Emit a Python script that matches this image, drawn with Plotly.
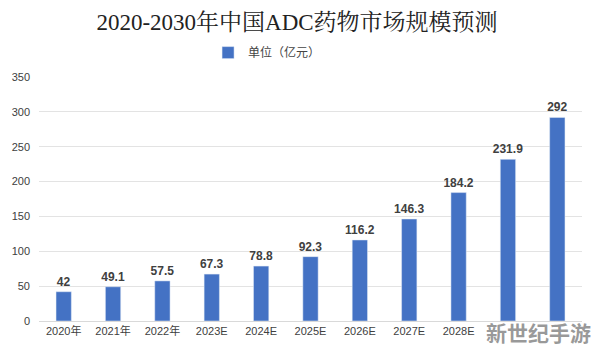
import plotly.graph_objects as go

categories = ["2020年", "2021年", "2022年", "2023E", "2024E", "2025E", "2026E", "2027E", "2028E", "2029E", "2030E"]
values = [42, 49.1, 57.5, 67.3, 78.8, 92.3, 116.2, 146.3, 184.2, 231.9, 292]
labels = ["42", "49.1", "57.5", "67.3", "78.8", "92.3", "116.2", "146.3", "184.2", "231.9", "292"]
# last two category labels are hidden under the watermark in the reference
tick_text = ["2020年", "2021年", "2022年", "2023E", "2024E", "2025E", "2026E", "2027E", "2028E", "", ""]
y_ticks = [0, 50, 100, 150, 200, 250, 300, 350]

fig = go.Figure()
fig.add_trace(go.Bar(
    x=categories, y=values, name="单位（亿元）",
    marker=dict(color="#4472C4"),
    text=labels, textposition="outside", cliponaxis=False,
    textfont=dict(family="Liberation Sans, Noto Sans CJK SC, sans-serif", size=12, color="#404040", weight="bold"),
))
fig.update_layout(
    width=594, height=351,
    margin=dict(l=37, r=12, t=77, b=30),
    paper_bgcolor="white", plot_bgcolor="white",
    bargap=0.69,
    uniformtext=dict(minsize=12, mode="show"),
    title=dict(text="2020-2030年中国ADC药物市场规模预测", x=0.5, xanchor="center", y=0.937, yanchor="middle",
               font=dict(family="Liberation Serif, Noto Serif CJK SC, Noto Sans CJK SC, serif", size=23, color="#222222")),
    showlegend=True,
    legend=dict(orientation="h", x=0.42, xanchor="center", y=1.1, yanchor="middle",
                font=dict(family="Noto Sans CJK SC, serif", size=12, color="#444444"),
                itemwidth=30, bgcolor="rgba(0,0,0,0)"),
    xaxis=dict(showline=True, linecolor="#d9d9d9", linewidth=1, ticks="",
               tickvals=categories, ticktext=tick_text,
               tickfont=dict(family="Liberation Sans, Noto Sans CJK SC, sans-serif", size=11, color="#404040")),
    yaxis=dict(range=[0, 350], tickvals=y_ticks, showgrid=True, gridcolor="#e3e3e3", zeroline=False,
               ticks="", ticklabelstandoff=8,
               tickfont=dict(family="Liberation Sans, sans-serif", size=11, color="#404040")),
    font=dict(family="Noto Sans CJK SC"),
)
fig.add_annotation(text="<b>新世纪手游</b>", xref="paper", yref="paper", x=1.02, y=-0.045, xanchor="right", yanchor="middle",
                   showarrow=False, font=dict(family="Noto Sans CJK SC", size=21, color="rgba(120,120,120,0.75)"))
fig.write_html("out.html")
